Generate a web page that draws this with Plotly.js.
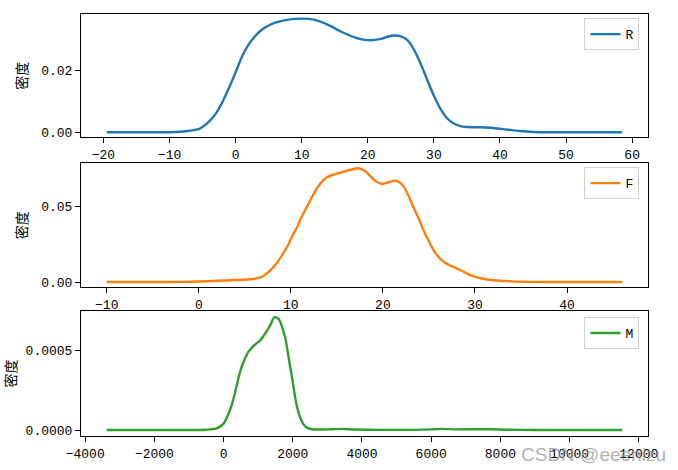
<!DOCTYPE html>
<html>
<head>
<meta charset="utf-8">
<script src="https://cdn.plot.ly/plotly-3.0.1.min.js"></script>
<style>html,body{margin:0;padding:0;background:#fff;}#chart{width:678px;height:470px;}</style>
</head>
<body>
<div id="chart"></div>
<script>
// R series (KDE density)
const rX = [-19.5, -14, -11, -9, -7, -5.5, -4, -3, -2, -1, 0, 1, 2, 3, 4, 5, 6, 8, 10, 12, 14, 16, 18, 20, 22, 23, 24, 25, 26, 27, 28, 29, 30, 31, 32, 33, 34, 35, 37, 39, 41, 43, 45, 48, 58.5];
const rY = [0, 0, 0.00002, 0.0001, 0.0005, 0.0011, 0.0035, 0.006, 0.0097, 0.0143, 0.0193, 0.0245, 0.0283, 0.031, 0.033, 0.0343, 0.0352, 0.0362, 0.0365, 0.0361, 0.0345, 0.0323, 0.0305, 0.0296, 0.03, 0.0307, 0.0311, 0.0308, 0.0296, 0.0265, 0.022, 0.0168, 0.0117, 0.0075, 0.0045, 0.0028, 0.002, 0.0017, 0.0016, 0.0014, 0.0009, 0.0004, 0.0001, 0, 0];

// F series
const fX = [-10, -5, -2, 0, 2, 4, 5, 5.6, 6.5, 7, 7.5, 8, 8.5, 9, 9.6, 10.2, 10.7, 11.2, 11.75, 12.3, 12.83, 13.4, 13.9, 14.6, 15.4, 16.5, 17.2, 17.7, 18.1, 18.6, 19.2, 19.9, 20.6, 21.3, 21.8, 22.3, 22.8, 23.3, 23.9, 24.4, 25, 25.5, 26, 26.6, 27.3, 28, 28.7, 29.5, 30.2, 30.9, 32, 34, 36, 40, 46];
const fY = [0, 0, 0.0001, 0.0003, 0.0008, 0.0013, 0.0015, 0.0018, 0.0027, 0.004, 0.0062, 0.0092, 0.0128, 0.0175, 0.0234, 0.031, 0.0367, 0.0435, 0.05, 0.0565, 0.0622, 0.0668, 0.0695, 0.0712, 0.0726, 0.0745, 0.0755, 0.075, 0.0735, 0.0705, 0.067, 0.0651, 0.0662, 0.0673, 0.0662, 0.063, 0.057, 0.05, 0.042, 0.0345, 0.027, 0.0212, 0.017, 0.0135, 0.011, 0.0091, 0.007, 0.0046, 0.0031, 0.0022, 0.0012, 0.0004, 0.0001, 0, 0];

// M series
const mX = [-3376, -1000, -500, -200, 0, 100, 242, 350, 434, 530, 627, 720, 820, 940, 1061, 1160, 1253, 1360, 1466, 1560, 1639, 1710, 1783, 1860, 1928, 2000, 2072, 2140, 2216, 2300, 2409, 2550, 2700, 3000, 3400, 3800, 4500, 5500, 6000, 6300, 6700, 7200, 7700, 8200, 9000, 11521];
const mY = [0, 0, 0.000002, 0.00001, 0.00004, 0.00008, 0.00016, 0.00025, 0.00033, 0.0004, 0.00045, 0.00049, 0.000515, 0.00054, 0.00056, 0.00059, 0.00062, 0.00066, 0.000705, 0.0007, 0.000677, 0.00063, 0.000577, 0.00048, 0.00039, 0.0003, 0.0002, 0.00013, 0.000077, 0.000038, 0.000015, 0.000005, 0.000003, 0.000004, 0.000007, 0.000003, 0.000001, 0.000001, 0.000004, 0.000007, 0.000004, 0.000005, 0.000005, 0.000002, 0, 0];

const seriesNames = ['R', 'F', 'M'];
const colors = ['#1f77b4', '#ff7f0e', '#2ca02c'];
const yTitle = '密度';

const numFont = {family: 'Liberation Mono, DejaVu Sans Mono, monospace', size: 13, color: '#000'};
const cjkFont = {family: 'Noto Sans CJK SC, sans-serif', size: 14, color: '#000'};

function mk(x, y, i, ax) {
  return {
    x: x, y: y, type: 'scatter', mode: 'lines', name: seriesNames[i],
    xaxis: 'x' + ax, yaxis: 'y' + ax,
    legend: i === 0 ? 'legend' : 'legend' + (i + 1),
    line: {color: colors[i], width: 2.4, shape: 'spline', smoothing: 0.6}
  };
}
const data = [mk(rX, rY, 0, ''), mk(fX, fY, 1, '2'), mk(mX, mY, 2, '3')];

function xa(range, dtick, anchor, fmt) {
  return {
    range: range, dtick: dtick, tick0: 0, anchor: anchor, domain: [0, 1],
    showgrid: false, zeroline: false, showline: true, mirror: true,
    linecolor: '#000', linewidth: 1, ticks: 'outside', ticklen: 5, tickwidth: 1,
    tickcolor: '#000', tickfont: numFont, tickformat: fmt
  };
}
function ya(range, dtick, domain, anchor, fmt) {
  return {
    range: range, dtick: dtick, tick0: 0, domain: domain, anchor: anchor,
    showgrid: false, zeroline: false, showline: true, mirror: true,
    linecolor: '#000', linewidth: 1, ticks: 'outside', ticklen: 5, tickwidth: 1,
    tickcolor: '#000', tickfont: numFont, tickformat: fmt,
    title: {text: yTitle, font: cjkFont, standoff: 10}
  };
}
function lg(y) {
  return {
    x: 0.985, xanchor: 'right', y: y, yanchor: 'top', xref: 'paper', yref: 'paper',
    bgcolor: 'rgba(255,255,255,0.8)', bordercolor: '#d0d0d0', borderwidth: 1,
    font: numFont, itemwidth: 30
  };
}

const layout = {
  width: 678, height: 470,
  margin: {l: 81, r: 30, t: 14, b: 34},
  paper_bgcolor: '#fff', plot_bgcolor: '#fff',
  showlegend: true,
  xaxis: xa([-23.4, 62.4], 10, 'y', 'd'),
  yaxis: ya([-0.00161, 0.0380], 0.02, [0.7078, 1], 'x', '.2f'),
  xaxis2: xa([-12.8, 48.8], 10, 'y2', 'd'),
  yaxis2: ya([-0.0033, 0.0788], 0.05, [0.3531, 0.6462], 'x2', '.2f'),
  xaxis3: xa([-4121, 12266], 2000, 'y3', 'd'),
  yaxis3: ya([-0.0000375, 0.000744], 0.0005, [0, 0.2962], 'x3', '.4f'),
  legend: lg(0.99),
  legend2: lg(0.637),
  legend3: lg(0.282),
  annotations: [{
    text: 'CSDN @eeenizu', xref: 'paper', yref: 'paper', x: 1.035, y: -0.045,
    xanchor: 'right', yanchor: 'middle', showarrow: false,
    font: {family: 'Liberation Sans, sans-serif', size: 19, color: 'rgba(150,150,150,0.75)'}
  }]
};

Plotly.newPlot('chart', data, layout, {displayModeBar: false, staticPlot: true});
</script>
</body>
</html>
